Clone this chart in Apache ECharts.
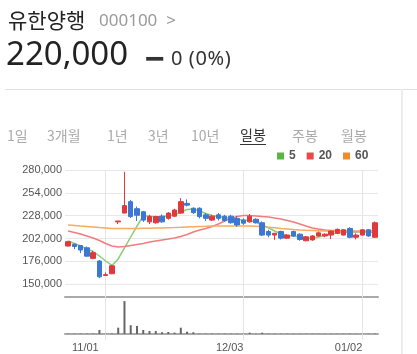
<!DOCTYPE html>
<html>
<head>
<meta charset="utf-8">
<script src="https://cdn.jsdelivr.net/npm/echarts@6.0.0/dist/echarts.min.js"></script>
<style>
  body { margin: 0; background: #fff; font-family: "Noto Sans CJK KR", "Noto Sans", sans-serif; }
  #wrap { position: relative; width: 417px; height: 354px; overflow: hidden; }
  #chart { position: absolute; left: 0; top: 0; width: 417px; height: 354px; }
  .t { position: absolute; white-space: nowrap; z-index: 2; }
  .tab { position: absolute; top: 125px; font-size: 14px; line-height: 20px; color: #aaa; z-index: 2; }
  #hline { position: absolute; left: 5px; top: 89px; width: 412px; height: 1px; background: #e0e0e0; }
  #vline { position: absolute; left: 401px; top: 89px; width: 2px; height: 265px; background: #ececec; }
</style>
</head>
<body>
<div id="wrap">
  <div id="chart"></div>
  <div class="t" style="left:8px;top:4px;font-size:21px;line-height:30px;color:#222;">유한양행</div>
  <div class="t" style="left:99px;top:6px;font-size:17px;line-height:28px;color:#9a9a9a;font-family:'Noto Sans',sans-serif;">000100&nbsp;&nbsp;&gt;</div>
  <div class="t" style="left:6px;top:32px;font-size:33px;line-height:42px;color:#222;font-family:'Noto Sans',sans-serif;">220,000</div>
  <div class="t" style="left:145px;top:38px;font-size:34px;line-height:40px;color:#333;font-weight:bold;font-family:'Liberation Sans',sans-serif;">−</div>
  <div class="t" style="left:171px;top:44px;font-size:20px;line-height:27px;letter-spacing:0.6px;color:#333;font-family:'Noto Sans',sans-serif;">0 (0%)</div>
  <div id="hline"></div>
  <div id="vline"></div>
  <div class="tab" style="left:7px;">1일</div>
  <div class="tab" style="left:47px;">3개월</div>
  <div class="tab" style="left:107px;">1년</div>
  <div class="tab" style="left:148px;">3년</div>
  <div class="tab" style="left:191px;">10년</div>
  <div class="tab" style="left:240px;color:#333;border-bottom:1px solid #333;line-height:19px;">일봉</div>
  <div class="tab" style="left:292px;">주봉</div>
  <div class="tab" style="left:341px;">월봉</div>
</div>
<script>
  // trading days, oct 2018 - jan 2019
  const dates = ['10/24','10/25','10/26','10/29','10/30','10/31',
    '11/01','11/02','11/05','11/06','11/07','11/08','11/09','11/12','11/13','11/14','11/15','11/16',
    '11/19','11/20','11/21','11/22','11/23','11/26','11/27','11/28','11/29','11/30',
    '12/03','12/04','12/05','12/06','12/07','12/10','12/11','12/12','12/13','12/14',
    '12/17','12/18','12/19','12/20','12/21','12/24','12/26','12/27','12/28',
    '01/02','01/03','01/04'];
  const labelDates = ['11/01', '12/03', '01/02'];

  const opens = [193500,195500,194000,191500,179500,176500,160000,162000,221000,231000,
    244000,236000,232500,221000,220000,227500,225000,227500,231000,242000,
    236500,236500,229000,223000,229000,227500,227500,225000,223000,221000,
    224000,220000,210000,206000,210000,202500,210000,207000,199500,200500,
    205000,205000,206000,208000,206000,213500,203500,206000,212000,203500];
  const closes = [198500,193000,189000,182000,186000,158500,161000,171000,222000,239500,
    227000,228500,223000,227000,227000,221000,231000,234500,244000,240000,
    231500,227000,225000,227500,225000,222500,220000,217500,219500,227500,
    220000,206000,206000,208000,202500,206000,205000,201000,204000,205000,
    208500,207000,210500,212500,212000,203500,206000,212000,205000,220000];
  const lows = [193000,190000,185500,181500,178500,157000,160000,161500,218500,231000,
    225500,222000,221000,218500,219000,220000,223500,226500,230000,238500,
    230000,225000,222000,222000,222500,221000,219000,215500,217500,220000,
    219000,205000,203500,200500,201000,201500,204000,199500,199000,199500,
    204000,203500,201500,207000,205500,202500,201000,205500,204000,203000];
  const highs = [199500,196500,194500,193000,188000,177500,163500,172000,222000,278000,
    246000,238500,233500,229000,228000,229500,232000,236000,248000,246500,
    237500,237500,231000,229000,231000,229000,229000,228000,225000,230000,
    225000,221500,212000,208500,211000,207000,211000,208000,205000,206000,
    210000,208000,211000,213500,212500,215000,208000,212500,212500,221500];

  const ma5 = [199300,196400,193600,190200,187300,182200,176500,171400,178800,191300,
    203800,216300,227700,227700,226600,227100,227700,228800,232200,235100,
    235700,233400,230500,228300,227100,226000,224900,223700,223200,222600,
    220900,217500,214100,210600,207200,205500,205000,203800,202700,202100,
    203800,205500,207200,208400,208900,209500,209500,209500,209500,208900];
  const ma20 = [210600,208900,207200,205000,202700,199800,196400,193600,192500,193000,
    194200,195300,196400,198100,199300,200400,201500,202700,204400,206700,
    209500,211800,213500,215800,218600,222000,224900,227100,228300,228300,
    227700,227100,226600,225400,224300,222600,220900,218600,216300,214100,
    212900,211800,211200,211200,210600,210100,210100,210100,210100,210100];
  const ma60 = [217500,216900,216300,215800,215200,214600,214100,213500,213500,213500,
    213500,213500,213700,213800,214100,214100,214300,214500,214800,215200,
    215500,215800,216000,216300,216300,216300,216300,216300,216300,216300,
    216000,215500,215000,214300,213500,212900,212300,211800,211400,211200,
    211000,210600,210600,210600,210600,210600,210600,210600,210600,210600];

  const volumes = [14000,12000,15000,16000,14000,160000,15000,18000,252000,1308000,
    348000,320000,160000,120000,118000,70000,80000,55000,250000,92000,
    68000,16000,15000,14000,13000,14000,12000,13000,14000,54000,
    12000,52000,14000,12000,11000,10000,12000,11000,11000,10000,
    10000,9000,11000,11000,10000,14000,9000,10000,9000,15000];

  const red = '#e0393d', blue = '#3a78d4';
  const isLabelDay = (i, v) => labelDates.indexOf(v) >= 0;

  const chart = echarts.init(document.getElementById('chart'));
  const option = {
    animation: false,
    legend: {
      left: 277, top: 150, padding: 0,
      icon: 'rect', itemWidth: 7, itemHeight: 7, itemGap: 11,
      textStyle: { color: '#555', fontSize: 12, fontWeight: 'bold', fontFamily: 'Liberation Sans' },
      data: [
        { name: '5', itemStyle: { color: '#58b548' } },
        { name: '20', itemStyle: { color: '#e84a4a' } },
        { name: '60', itemStyle: { color: '#f08c2a' } }
      ]
    },
    grid: [
      { left: 65, right: 39, top: 170, height: 170 },   // vertical guide lines
      { left: 65, right: 39, top: 170, height: 114.3 }, // price
      { left: 65, right: 39, top: 297, height: 37 }     // volume
    ],
    xAxis: [
      {
        gridIndex: 0, type: 'category', data: dates, boundaryGap: true,
        axisLine: { show: false }, axisLabel: { show: false }, splitLine: { show: false },
        axisTick: { show: true, inside: true, length: 170, alignWithLabel: true,
          interval: isLabelDay, lineStyle: { color: '#e4e4e4', width: 1 } }
      },
      {
        gridIndex: 1, type: 'category', data: dates, boundaryGap: true, offset: 12.6,
        axisLine: { show: true, lineStyle: { color: '#aaa', width: 2 } },
        axisTick: { show: false }, axisLabel: { show: false }, splitLine: { show: false }
      },
      {
        gridIndex: 2, type: 'category', data: dates, boundaryGap: true,
        axisLine: { show: true, lineStyle: { color: '#aaa', width: 2 } },
        axisTick: { show: false }, splitLine: { show: false },
        axisLabel: {
          show: true, interval: isLabelDay, align: 'right', margin: 8,
          color: '#555', fontSize: 11, fontFamily: 'Liberation Sans',
          formatter: v => v === '11/01' ? '{p|' + v + '}' : v,
          rich: { p: { padding: [0, 7, 0, 0], color: '#555', fontSize: 11, fontFamily: 'Liberation Sans' } }
        }
      }
    ],
    yAxis: [
      { gridIndex: 0, type: 'value', show: false, min: 0, max: 1 },
      {
        gridIndex: 1, type: 'value', min: 150000, max: 280000, interval: 26000,
        axisLine: { show: false }, axisTick: { show: false },
        axisLabel: { color: '#555', fontSize: 11, fontFamily: 'Liberation Sans', margin: 3,
          formatter: v => v.toLocaleString('en-US') },
        splitLine: { lineStyle: { color: '#e8e8e8', width: 1 } }
      },
      { gridIndex: 2, type: 'value', show: false, min: 0, max: 1470000, splitLine: { show: false } }
    ],
    series: [
      {
        name: '5', type: 'line', xAxisIndex: 1, yAxisIndex: 1, data: ma5,
        showSymbol: false, symbol: 'none', z: 3,
        itemStyle: { color: '#58b548' }, lineStyle: { color: '#86cf76', width: 1.5 }
      },
      {
        name: '20', type: 'line', xAxisIndex: 1, yAxisIndex: 1, data: ma20,
        showSymbol: false, symbol: 'none', z: 3,
        itemStyle: { color: '#e84a4a' }, lineStyle: { color: '#f07d7d', width: 1.5 }
      },
      {
        name: '60', type: 'line', xAxisIndex: 1, yAxisIndex: 1, data: ma60,
        showSymbol: false, symbol: 'none', z: 3,
        itemStyle: { color: '#f08c2a' }, lineStyle: { color: '#f6aa62', width: 1.5 }
      },
      {
        type: 'candlestick', xAxisIndex: 1, yAxisIndex: 1, barWidth: 5, z: 4,
        data: dates.map((d, i) => [opens[i], closes[i], lows[i], highs[i]]),
        itemStyle: { color: red, color0: blue, borderColor: red, borderColor0: blue, borderWidth: 1 }
      },
      {
        type: 'bar', xAxisIndex: 2, yAxisIndex: 2, data: volumes, barWidth: 2,
        itemStyle: { color: '#666' }
      }
    ]
  };
  chart.setOption(option);
</script>
</body>
</html>
